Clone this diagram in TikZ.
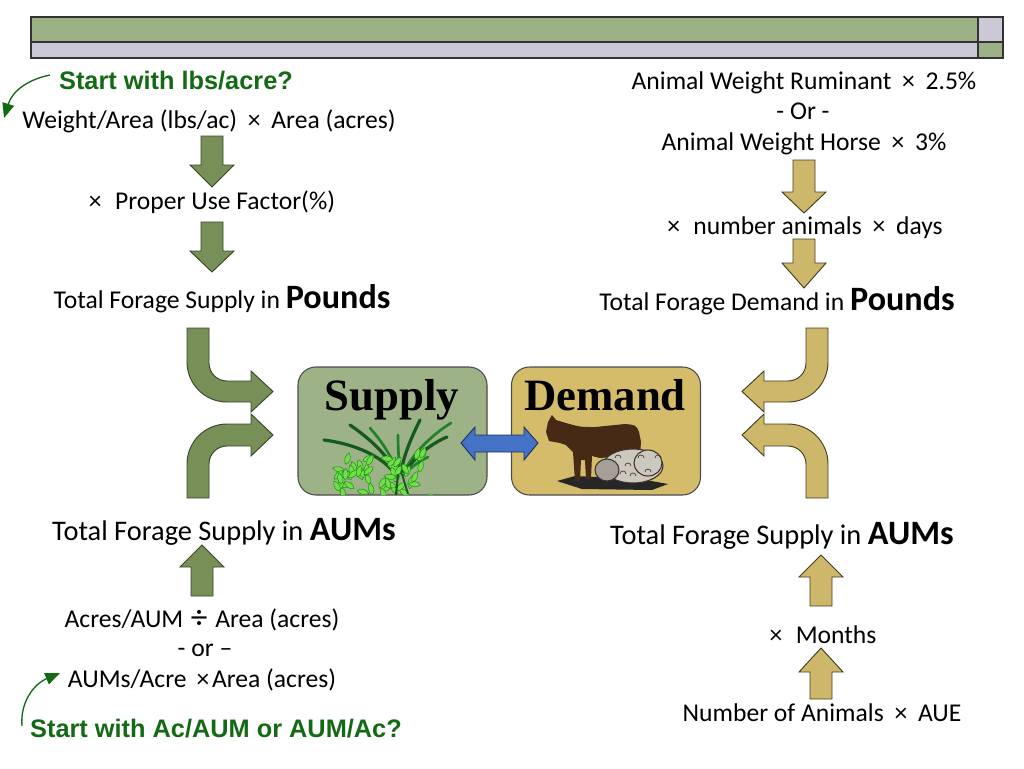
\documentclass[tikz,border=0pt]{standalone}
\usepackage{fontspec}
\setmainfont{Carlito}
\newfontfamily\arialf{Liberation Sans}
\newfontfamily\timesf{Liberation Serif}
\usetikzlibrary{arrows.meta}
\definecolor{bargreen}{RGB}{155,177,133}
\definecolor{barlav}{RGB}{204,200,216}
\definecolor{arrgreen}{RGB}{119,144,88}
\definecolor{arrgreenedge}{RGB}{55,70,40}
\definecolor{tanA}{RGB}{205,183,106}
\definecolor{tanedge}{RGB}{70,60,30}
\definecolor{supfill}{RGB}{158,178,135}
\definecolor{demfill}{RGB}{212,188,106}
\definecolor{blueA}{RGB}{68,114,196}
\definecolor{blueedge}{RGB}{30,50,100}
\definecolor{txtgreen}{RGB}{20,105,20}
\definecolor{grassdark}{RGB}{20,90,30}
\definecolor{grassmid}{RGB}{30,130,40}
\definecolor{leafgreen}{RGB}{110,225,70}
\definecolor{leafedge}{RGB}{40,140,30}
\definecolor{cowbrown}{RGB}{70,42,22}
\definecolor{sheepgray}{RGB}{205,200,190}
\definecolor{sheepedge}{RGB}{60,50,40}
\newcommand\blkdown[5]{%
  \draw[#1] ({#2-11},#3) -- ({#2+11},#3) -- ({#2+11},#4) -- ({#2+22},#4) -- (#2,#5) -- ({#2-22},#4) -- ({#2-11},#4) -- cycle;}
\newcommand\curvedpair[1]{%
  \draw[#1] (187,328) -- (209,328) -- (209,363) arc[start angle=180, end angle=90, radius=18] -- (251,381) -- (251,371) -- (273,391.5) -- (251,412) -- (251,402) -- (227,402) arc[start angle=90, end angle=180, radius=40] -- cycle;
  \draw[#1] (187,498) -- (209,498) -- (209,464) arc[start angle=180, end angle=270, radius=18] -- (251,446) -- (251,456) -- (273,435) -- (251,414) -- (251,424) -- (227,424) arc[start angle=270, end angle=180, radius=40] -- cycle;}
\tikzset{
  txt/.style={font=\fontsize{19.2}{23}\selectfont, inner sep=0pt, anchor=base},
  bigtxt/.style={font=\fontsize{21.3}{25}\selectfont, inner sep=0pt, anchor=base},
  gtxt/.style={font=\arialf\bfseries\fontsize{19}{23}\selectfont, text=txtgreen, inner sep=0pt, anchor=base},
  titletxt/.style={font=\timesf\bfseries\fontsize{33.6}{36}\selectfont, inner sep=0pt, anchor=base},
  garrow/.style={draw=txtgreen, line width=1pt, -{Triangle[length=11pt,width=9pt]}},
  blockg/.style={fill=arrgreen, draw=arrgreenedge, line width=0.7pt},
  blockt/.style={fill=tanA, draw=tanedge, line width=0.7pt},
  barcell/.style={draw=black!80, line width=0.9pt},
  bigbox/.style={draw=black!70, line width=0.8pt, rounded corners=13.5pt, minimum width=141.75pt, minimum height=96pt, inner sep=0pt},
  blade/.style={draw=grassdark, line width=2.4pt, line cap=round},
  blade2/.style={draw=grassmid, line width=2pt, line cap=round},
  leaf/.style={fill=leafgreen, draw=leafedge, line width=0.4pt},
}
\newcommand\bp{\bfseries\fontsize{25.6}{28}\selectfont}
\newcommand\X{\hspace{0.42em}×\hspace{0.42em}}
\newcommand\DV{\hspace{0.3em}\raisebox{-1.2pt}{\fontsize{25}{25}\selectfont ÷}\hspace{0.3em}}
\begin{document}
\begin{tikzpicture}[x=0.75pt,y=-0.75pt]
\useasboundingbox (0,0) rectangle (1024,768);
% top bar
\draw[barcell, fill=bargreen] (31,17) rectangle (978,42);
\draw[barcell, fill=barlav] (978,17) rectangle (1003,42);
\draw[barcell, fill=barlav] (31,42) rectangle (978,58);
\draw[barcell, fill=bargreen] (978,42) rectangle (1003,58);

% left column texts
\node[gtxt] (startlbs) at (176,89) {Start with lbs/acre?};
\node[txt] (wa) at (209,128) {Weight/Area (lbs/ac)\X Area (acres)};
\node[txt] (puf) at (212,209) {×\hspace{0.3em} Proper Use Factor(\%)};
\node[txt] (tfsp) at (222,308) {Total Forage Supply in {\bp Pounds}};
\node[bigtxt] (tfsa) at (224,540) {Total Forage Supply in {\bp AUMs}};
\node[txt] (acaum) at (202,627) {Acres/AUM\DV Area (acres)};
\node[txt] (ortxt) at (205,656) {- or –};
\node[txt] (aumac) at (202,687) {AUMs/Acre \,×\hspace{0.1em}Area (acres)};
\node[gtxt] (startac) at (216,737) {Start with Ac/AUM or AUM/Ac?};

% right column texts
\node[txt] (awr) at (804,89) {Animal Weight Ruminant\X 2.5\%};
\node[txt] (ortxt2) at (803,119) {- Or -};
\node[txt] (awh) at (804,150) {Animal Weight Horse\X 3\%};
\node[txt] (nad) at (805,234) {×\hspace{0.3em} number animals\X days};
\node[txt] (tfdp) at (777,310) {Total Forage Demand in {\bp Pounds}};
\node[bigtxt] (tfsa2) at (782,544) {Total Forage Supply in {\bp AUMs}};
\node[txt] (mon) at (823,643) {×\hspace{0.3em} Months};
\node[txt] (noa) at (822,721) {Number of Animals\X AUE};

% green hint arrows
\coordinate (g1s) at (50,75);
\coordinate (g1e) at (4,118);
\draw[garrow] (g1s) .. controls (26,80) and (12,92) .. (g1e);
\coordinate (g2s) at (22,726);
\coordinate (g2e) at (60,673);
\draw[garrow] (g2s) .. controls (20,702) and (34,684) .. (g2e);

% straight block arrows
\blkdown{blockg}{212}{136}{165}{187}
\blkdown{blockg}{212}{222}{251}{272}
\blkdown{blockg}{202}{596}{567}{545}
\blkdown{blockt}{804}{160}{192}{213}
\blkdown{blockt}{804}{239}{263}{288}
\blkdown{blockt}{821}{606}{577}{555}
\blkdown{blockt}{821}{699}{672}{648}

% curved arrows
\curvedpair{blockg}
\begin{scope}[shift={(1015,0)}, xscale=-1]
\curvedpair{blockt}
\end{scope}

% boxes
\node[bigbox, fill=supfill] (supply) at (392.5,431) {};
\node[bigbox, fill=demfill] (demand) at (606,431) {};

% grass blades
\draw[blade] (324,440) .. controls (355,444) and (382,456) .. (395,474);
\draw[blade] (350,425) .. controls (372,440) and (390,458) .. (397,475);
\draw[blade2] (398,435) .. controls (398,450) and (399,462) .. (400,473);
\draw[blade] (420,420) .. controls (410,440) and (403,458) .. (401,473);
\draw[blade2] (451,423) .. controls (430,436) and (412,455) .. (404,472);
\draw[blade] (447,437) .. controls (428,445) and (412,460) .. (405,473);
\draw[blade2] (428,457) .. controls (418,462) and (410,468) .. (404,475);
\draw[blade2] (370,428) .. controls (385,445) and (393,460) .. (398,474);
% leafy clump
\begin{scope}
\clip[rounded corners=13.5pt] (298,367) rectangle (487,495);
\pgfmathsetseed{11}
\foreach \i in {1,...,52}{
  \pgfmathsetmacro\lx{340+88*rnd}
  \pgfmathsetmacro\ly{458+38*rnd}
  \pgfmathsetmacro\la{360*rnd}
  \begin{scope}[shift={(\lx,\ly)}, rotate=\la]
    \draw[leaf] (0,0) .. controls (3,-3.5) and (8,-3.5) .. (12,0) .. controls (8,3.5) and (3,3.5) .. (0,0);
  \end{scope}
}
\draw[grassdark, line width=1.6pt] (398,474) -- (396,495);
\draw[grassdark, line width=1.4pt] (402,474) -- (408,494);
\end{scope}

% double arrow
\draw[fill=blueA, draw=blueedge, line width=0.7pt] (461,443) -- (475,427) -- (475,435) -- (524,435) -- (524,427) -- (538,443) -- (524,460) -- (524,452) -- (475,452) -- (475,460) -- cycle;

% animals
\fill[black!85] (557,481) -- (575,476) -- (640,479) -- (668,484) -- (652,490) -- (582,489) -- cycle;
\fill[cowbrown] (549,441) -- (546,432) -- (548,422) -- (552,415) -- (556,420) -- (566,423) .. controls (580,427) .. (595,427) -- (625,424) .. controls (636,425) .. (639,432) -- (641,442) -- (640,455) -- (600,458) -- (592,456) -- (591,479) -- (586,479) -- (585,460) -- (581,460) -- (580,481) -- (575,481) -- (573,452) -- (566,445) -- (560,443) -- cycle;
\draw[sheepedge, fill=sheepgray, line width=0.8pt] (633,466) ellipse [x radius=30, y radius=17];
\draw[sheepedge, fill=sheepgray!80!black, line width=0.8pt] (607,470) ellipse [x radius=12, y radius=11];
\draw[sheepedge, fill=sheepgray, line width=0.8pt] (648,463) ellipse [x radius=14, y radius=13];
\foreach \sx/\sy in {615/458, 625/466, 638/458, 645/472, 655/458, 630/476, 620/474}
  \draw[sheepedge, line width=0.5pt] (\sx,\sy) arc[start angle=180, end angle=360, radius=3];

% titles
\node[titletxt] (suptxt) at (392,410) {Supply};
\node[titletxt] (demtxt) at (605,410) {Demand};
\end{tikzpicture}
\end{document}
